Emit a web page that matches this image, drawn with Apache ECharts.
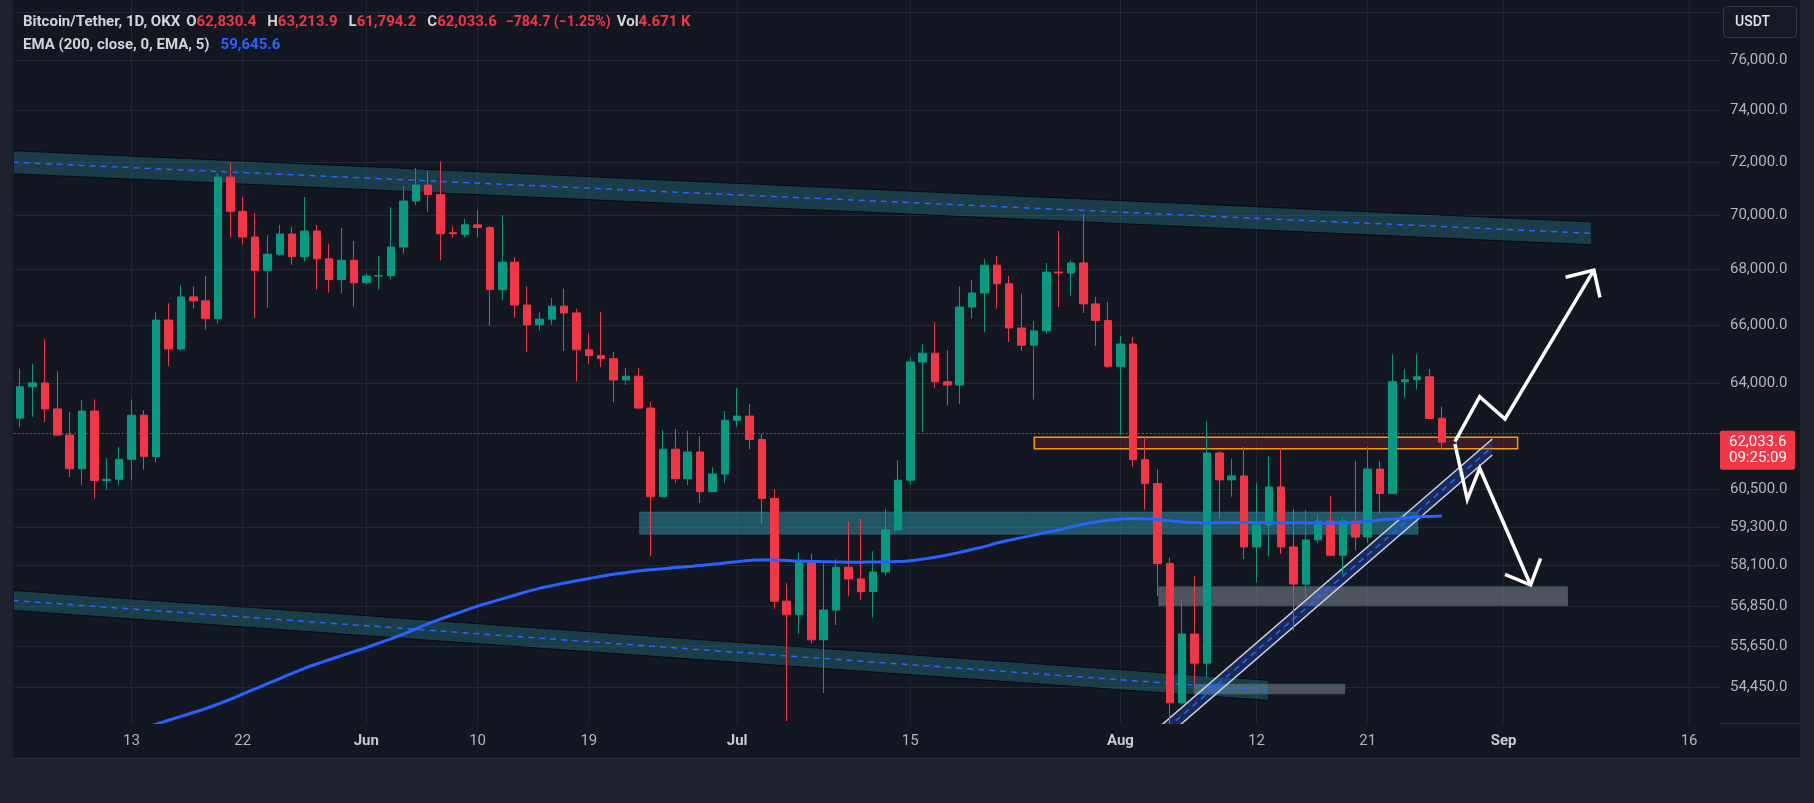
<!DOCTYPE html>
<html>
<head>
<meta charset="utf-8">
<script src="https://cdn.jsdelivr.net/npm/echarts@6/dist/echarts.min.js"></script>
<style>
html,body{margin:0;padding:0;background:#131722;}
#chart{width:1814px;height:803px;}
</style>
</head>
<body>
<div id="chart"></div>
<script>
// ---------------- DATA ----------------
const START_DATE = '2024-05-04';   // first candle
const AXIS_DAYS = 138;             // categories shown on the time axis (May 4 .. Sep 18)

const OPEN = [62830,63890,64020,63140,62270,61160,63070,60780,60820,61470,62930,61560,66200,65190,67020,66880,66250,71430,70140,69190,67970,68560,69300,68470,69410,68390,67640,68340,67530,67770,67780,68820,70530,71130,70770,69350,69290,69640,69540,67280,68270,66730,66030,66230,66690,66450,65160,64960,64850,64120,64250,63170,60260,61800,60840,61710,60420,60990,62760,62900,62120,60200,57000,56590,58230,55840,56730,58040,57680,57290,57890,59200,60790,64740,65040,64060,63950,66660,67160,68160,67490,65920,65320,65820,67910,67880,68240,66770,66180,64590,65360,61460,60680,58150,54000,56010,55150,61680,60800,60930,58670,59360,60570,58670,57520,58890,59480,58410,59480,58980,61150,60360,64060,64130,64230,62830.4];
const HIGH = [64510,64670,65530,64420,63030,63430,63460,61510,61880,63460,63100,66480,66790,67430,67390,67770,71580,71970,70680,70080,69270,69640,69570,70680,69640,68930,69520,69040,67870,68500,70300,71100,71780,71670,72020,69590,69860,70190,69590,70000,68450,67390,66480,66980,67310,66600,65730,66480,65080,64530,64530,63370,62430,62470,62410,62230,61210,63070,63850,63300,62310,60500,57550,58490,58450,58160,58280,59480,59560,58530,59870,61430,64890,65370,66120,65150,67400,67620,68380,68500,67770,67130,66160,68240,69410,68340,70050,67020,66840,65640,65600,62210,61150,58330,57060,57760,62730,61740,61490,61880,60690,61590,61840,59870,59830,59710,60280,59620,61420,61880,61420,65000,64500,65000,64500,63213.9];
const LOW = [62530,62880,62700,62240,60890,60630,60200,60480,60620,60780,61130,61360,64600,65130,66600,65860,66070,69170,68920,66270,66640,68500,68180,68290,67280,67170,67140,66680,67460,67280,67640,68580,70380,70130,68330,69170,69170,69170,65990,66910,66270,65090,65840,66030,65120,64070,64680,64560,63370,63950,63150,58390,60260,60710,60630,60060,60420,60710,62530,61800,59390,56770,53480,56020,55730,54280,56280,57150,57030,56510,57780,59190,60650,62370,63850,63250,63300,66250,65780,66600,65430,65120,63460,65710,66660,67050,66450,65290,64530,62270,61210,59840,57150,49000,53950,54560,54720,59550,60260,58290,57580,58390,58450,56110,57090,58790,58390,57810,58560,58790,59700,60360,63520,63800,62790,61794.2];
const CLOSE = [63890,64020,63140,62270,61160,63070,60780,60820,61470,62930,61560,66200,65190,67020,66880,66250,71430,70140,69190,67970,68560,69300,68470,69410,68390,67640,68340,67530,67770,67780,68820,70530,71130,70770,69310,69310,69640,69540,67280,68270,66730,66030,66230,66690,66450,65160,64960,64850,64120,64250,63170,60260,61800,60840,61710,60420,60990,62760,62900,62120,60200,57000,56590,58230,55840,56730,58040,57680,57290,57890,59200,60790,64740,65040,64060,63950,66660,67160,68160,67490,65920,65320,65820,67910,67880,68240,66770,66180,64590,65360,61460,60680,58150,54000,56010,55150,61680,60800,60930,58670,59360,60570,58670,57520,58890,59480,58410,59480,58980,61150,60360,64060,64130,64230,62820,62033.6];

// EMA(200), one value per day starting at candle index EMA_START
const EMA_START = 10;
const EMA200 = [53300,53390,53500,53610,53720,53830,53960,54100,54250,54400,54550,54700,54850,55000,55130,55250,55370,55490,55610,55740,55870,56010,56160,56320,56460,56590,56720,56850,56960,57070,57180,57290,57390,57470,57550,57620,57690,57760,57820,57870,57920,57960,57990,58030,58060,58090,58130,58170,58210,58250,58265,58260,58245,58230,58220,58210,58200,58195,58195,58200,58205,58215,58240,58290,58350,58420,58500,58590,58680,58790,58880,58960,59040,59120,59200,59300,59380,59450,59510,59545,59560,59555,59530,59490,59455,59435,59425,59430,59435,59440,59440,59435,59430,59430,59425,59420,59415,59420,59440,59470,59510,59545,59580,59610,59630,59646];

const LAST_PRICE = 62033.6;
const LAST_TIME = '09:25:09';
const EMA_LAST = 59645.6;

const Y_RANGE_PRICE = [53393, 78492];
const Y_LABEL_PRICES = [54450,55650,56850,58100,59300,60500,64000,66000,68000,70000,72000,74000,76000];
const Y_GRID_PRICES = [54450,55650,56850,58100,59300,60500,64000,66000,68000,70000,72000,74000,76000,78000];

const X_TICKS = [['2024-05-13','13'],['2024-05-22','22'],['2024-06-01','Jun'],['2024-06-10','10'],['2024-06-19','19'],['2024-07-01','Jul'],['2024-07-15','15'],['2024-08-01','Aug'],['2024-08-12','12'],['2024-08-21','21'],['2024-09-01','Sep'],['2024-09-16','16']];

// Drawings, in (day index from START_DATE, price)
const CHANNELS = [
  {x:[-0.61,127.06], top:[72442,69752], bottom:[71561,68903], kind:'teal'},
  {x:[-0.61,100.9],  top:[57327,54649], bottom:[56720,54071], kind:'teal'},
  {x:[92.14,119.08], top:[53307,62138], bottom:[52855,61611], kind:'blue'}
];
const ZONES = [
  {x:[50.10,113.07], price:[59068,59770], kind:'support'},
  {x:[92.10,125.17], price:[56866,57439], kind:'target'},
  {x:[94.96,107.15], price:[54257,54535], kind:'target'},
  {x:[82.03,121.13], price:[61818,62194], kind:'resistance'}
];
const ARROW_UP = [[116.06,62049],[118.06,63552],[120.11,62803],[127.30,67985]];
const ARROW_UP_HEAD = [[125.01,67722],[127.30,67985],[127.79,67005]];
const ARROW_DOWN = [[116.06,61973],[117.06,60175],[118.06,61177],[122.18,57491]];
const ARROW_DOWN_HEAD = [[120.11,57819],[122.18,57491],[122.99,58314]];

// ---------------- STYLES ----------------
const BG = '#131722';
const FRAME = '#1e222d';
const GRID_COLOR = 'rgba(42,46,57,0.75)';
const UP = '#089981', DOWN = '#f23645';
const TEXT = '#b2b5be';
const FONT = 'Roboto';
const CHANNEL_STYLE = {
  teal: {fill:'rgba(46,150,170,0.30)', edge:'rgba(5,8,12,0.9)', edgeWidth:1, mid:'#2962ff'},
  blue: {fill:'rgba(41,98,255,0.25)', edge:'#d1d4dc', edgeWidth:1.5, mid:'#2962ff'}
};
const ZONE_STYLE = {
  support:    {fill:'rgba(46,150,170,0.50)', stroke:'rgba(46,150,170,0.35)', lineWidth:1},
  target:     {fill:'rgba(120,123,134,0.60)', stroke:'rgba(60,110,120,0.6)', lineWidth:1},
  resistance: {fill:'rgba(242,54,69,0.18)', stroke:'#ff9800', lineWidth:1.5}
};

// ---------------- BUILD ----------------
const L = Math.log;
function addDays(s, n) {
  const d = new Date(s + 'T00:00:00Z');
  d.setUTCDate(d.getUTCDate() + n);
  return d.toISOString().slice(0, 10);
}
const CATEGORIES = Array.from({length: AXIS_DAYS}, (_, i) => addDays(START_DATE, i));
const TICK_MAP = new Map(X_TICKS);
const MONTHS = new Set(['Jun','Jul','Aug','Sep']);

const candleData = OPEN.map((o, i) => [L(o), L(CLOSE[i]), L(LOW[i]), L(HIGH[i])]);
const emaData = CATEGORIES.map((d, i) => {
  const k = i - EMA_START;
  return (k >= 0 && k < EMA200.length) ? L(EMA200[k]) : null;
});
const fmtPrice = v => Math.round(Math.exp(v)).toLocaleString('en-US') + '.0';

const chart = echarts.init(document.getElementById('chart'), null, {renderer: 'canvas'});

function renderVGrid(params, api) {
  const cs = params.coordSys;
  const x = api.coord([api.value(0), L(Y_RANGE_PRICE[0])])[0];
  return {type:'line', shape:{x1:x, y1:cs.y, x2:x, y2:cs.y + cs.height}, style:{stroke: GRID_COLOR, lineWidth:1}};
}
function renderChannel(params, api) {
  const c = CHANNELS[params.dataIndex];
  const st = CHANNEL_STYLE[c.kind];
  const P = (x, p) => api.coord([x, L(p)]);
  const t0 = P(c.x[0], c.top[0]), t1 = P(c.x[1], c.top[1]);
  const b0 = P(c.x[0], c.bottom[0]), b1 = P(c.x[1], c.bottom[1]);
  const m0 = P(c.x[0], Math.sqrt(c.top[0] * c.bottom[0]));
  const m1 = P(c.x[1], Math.sqrt(c.top[1] * c.bottom[1]));
  return {type:'group', children:[
    {type:'polygon', shape:{points:[t0, t1, b1, b0]}, style:{fill: st.fill}},
    {type:'line', shape:{x1:t0[0], y1:t0[1], x2:t1[0], y2:t1[1]}, style:{stroke: st.edge, lineWidth: st.edgeWidth}},
    {type:'line', shape:{x1:b0[0], y1:b0[1], x2:b1[0], y2:b1[1]}, style:{stroke: st.edge, lineWidth: st.edgeWidth}},
    {type:'line', shape:{x1:m0[0], y1:m0[1], x2:m1[0], y2:m1[1]}, style:{stroke: st.mid, lineWidth:1.5, lineDash:[6,5]}}
  ]};
}
function renderZone(params, api) {
  const z = ZONES[params.dataIndex];
  const st = ZONE_STYLE[z.kind];
  const a = api.coord([z.x[0], L(z.price[1])]);
  const b = api.coord([z.x[1], L(z.price[0])]);
  return {type:'rect', shape:{x:a[0], y:a[1], width:b[0] - a[0], height:b[1] - a[1]},
          style:{fill: st.fill, stroke: st.stroke, lineWidth: st.lineWidth}};
}
const ARROWS = [[ARROW_UP, ARROW_UP_HEAD], [ARROW_DOWN, ARROW_DOWN_HEAD]];
function renderArrow(params, api) {
  const [path, head] = ARROWS[params.dataIndex];
  const pts = a => a.map(p => api.coord([p[0], L(p[1])]));
  const s = {stroke:'#ffffff', lineWidth:3.5, fill:null, lineJoin:'miter', lineCap:'butt'};
  return {type:'group', children:[
    {type:'polyline', shape:{points: pts(path)}, style: s},
    {type:'polyline', shape:{points: pts(head)}, style: s}
  ]};
}

const option = {
  backgroundColor: BG,
  animation: false,
  title: [
    {
      left: 23, top: 13, padding: 0,
      text: '{g|Bitcoin/Tether, 1D, OKX}{g0|O}{r|62,830.4}{gl|H}{r|63,213.9}{gl|L}{r|61,794.2}{gl|C}{r|62,033.6}{rl|\u2212784.7 (\u22121.25%)}{gv|Vol}{r|4.671 K}',
      textStyle: {
        fontFamily: FONT, fontSize: 15, lineHeight: 19,
        rich: {
          g:  {color:'#d1d4dc', fontFamily:FONT, fontSize:15, lineHeight:19},
          g0: {color:'#d1d4dc', fontFamily:FONT, fontSize:15, lineHeight:19, padding:[0,0,0,6]},
          gl: {color:'#d1d4dc', fontFamily:FONT, fontSize:15, lineHeight:19, padding:[0,0,0,11]},
          gv: {color:'#d1d4dc', fontFamily:FONT, fontSize:15, lineHeight:19, padding:[0,0,0,6]},
          r:  {color:'#f23645', fontFamily:FONT, fontSize:15, lineHeight:19},
          rl: {color:'#f23645', fontFamily:FONT, fontSize:14.2, lineHeight:19, padding:[0,0,0,9]}
        }
      }
    },
    {
      left: 23, top: 35.5, padding: 0,
      text: '{g|EMA (200, close, 0, EMA, 5)}{b|' + EMA_LAST.toLocaleString('en-US', {minimumFractionDigits:1}) + '}',
      textStyle: {
        fontFamily: FONT, fontSize: 15, lineHeight: 19,
        rich: {
          g: {color:'#d1d4dc', fontFamily:FONT, fontSize:15, lineHeight:19},
          b: {color:'#2962ff', fontFamily:FONT, fontSize:15, lineHeight:19, padding:[0,0,0,11]}
        }
      }
    }
  ],
  grid: {left: 14, right: 94, top: 0, bottom: 79, containLabel: false},
  xAxis: [
    {
      type: 'category', data: CATEGORIES, boundaryGap: true, z: 10,
      axisLine: {show: false}, axisTick: {show: false}, splitLine: {show: false},
      axisLabel: {
        interval: (i, v) => TICK_MAP.has(v),
        margin: 10, color: TEXT, fontFamily: FONT, fontSize: 15,
        formatter: v => {
          const t = TICK_MAP.get(v);
          return MONTHS.has(t) ? '{b|' + t + '}' : t;
        },
        rich: {b: {fontWeight: 'bold', color: '#c7cad2', fontFamily: FONT, fontSize: 15}}
      }
    },
    {type: 'value', min: -0.5, max: AXIS_DAYS - 0.5, show: false}
  ],
  yAxis: [{
    type: 'value', position: 'right',
    min: L(Y_RANGE_PRICE[0]), max: L(Y_RANGE_PRICE[1]),
    axisLine: {show: false},
    axisTick: {show: false, customValues: Y_GRID_PRICES.map(L)},
    splitLine: {show: true, lineStyle: {color: GRID_COLOR, width: 1}},
    axisLabel: {
      customValues: Y_LABEL_PRICES.map(L), formatter: fmtPrice,
      color: TEXT, fontFamily: FONT, fontSize: 15, margin: 10, align: 'left'
    }
  }],
  series: [
    {
      type: 'custom', name: 'vgrid', xAxisIndex: 0, yAxisIndex: 0, z: 1, silent: true,
      data: X_TICKS.map(t => [t[0], L(Y_RANGE_PRICE[0])]), renderItem: renderVGrid
    },
    {
      type: 'custom', name: 'zones', xAxisIndex: 1, yAxisIndex: 0, z: 2, clip: true, silent: true,
      data: ZONES.map(z => [z.x[0], L(z.price[0])]), renderItem: renderZone
    },
    {
      type: 'custom', name: 'channels', xAxisIndex: 1, yAxisIndex: 0, z: 3, clip: true, silent: true,
      data: CHANNELS.map(c => [c.x[0], L(c.top[0])]), renderItem: renderChannel
    },
    {
      type: 'candlestick', name: 'BTCUSDT', xAxisIndex: 0, yAxisIndex: 0, z: 5,
      data: candleData, barWidth: 8, clip: true,
      itemStyle: {color: UP, color0: DOWN, borderColor: UP, borderColor0: DOWN, borderWidth: 1},
      markLine: {
        silent: true, symbol: ['none', 'none'], label: {show: false}, z: 4,
        lineStyle: {color: '#f23645', type: [1.5, 2.5], width: 1},
        data: [{yAxis: L(LAST_PRICE)}]
      }
    },
    {
      type: 'line', name: 'EMA 200', xAxisIndex: 0, yAxisIndex: 0, z: 6,
      data: emaData, showSymbol: false, smooth: true, connectNulls: false,
      lineStyle: {color: '#2962ff', width: 3}
    },
    {
      type: 'custom', name: 'arrows', xAxisIndex: 1, yAxisIndex: 0, z: 7, clip: true, silent: true,
      data: ARROWS.map(a => [a[0][0][0], L(a[0][0][1])]), renderItem: renderArrow
    }
  ]
};
chart.setOption(option);

// chrome + price tag (positions taken from the chart's own scales)
const gridRect = chart.getModel().getComponent('grid', 0).coordinateSystem.getRect();
const py = chart.convertToPixel({yAxisIndex: 0}, L(LAST_PRICE));
const gridBottom = gridRect.y + gridRect.height;
chart.setOption({
  graphic: [
    // mask for wicks running below the price scale (axis labels are drawn above it)
    {type:'rect', shape:{x:gridRect.x - 1, y:gridBottom, width:gridRect.width + 2, height:758 - gridBottom}, style:{fill: BG}, z: 8, silent: true},
    {type:'rect', shape:{x:0, y:0, width:13, height:803}, style:{fill: FRAME}, z: 100},
    {type:'rect', shape:{x:1800, y:0, width:14, height:803}, style:{fill: FRAME}, z: 100},
    {type:'rect', shape:{x:0, y:758, width:1814, height:45}, style:{fill: FRAME}, z: 100},
    {type:'line', shape:{x1:13, y1:758.5, x2:1800, y2:758.5}, style:{stroke:'#2a2e39', lineWidth:1}, z: 101},
    {type:'line', shape:{x1:1719, y1:gridBottom - 0.5, x2:1800, y2:gridBottom - 0.5}, style:{stroke:'#2a2e39', lineWidth:1}, z: 101},
    // USDT box
    {type:'rect', shape:{x:1723.5, y:6.5, width:73, height:31, r:4}, style:{fill:'#161a25', stroke:'#363a45', lineWidth:1}, z: 102},
    {type:'text', style:{x:1735, y:22, text:'USDT', fill:'#e0e3eb', font:'500 14px Roboto', verticalAlign:'middle'}, z: 103},
    // last price tag
    {type:'rect', shape:{x:1720, y:py - 11.5, width:75, height:39, r:2}, style:{fill:'#f23645'}, z: 102},
    {type:'text', style:{x:1729, y:py, text: LAST_PRICE.toLocaleString('en-US', {minimumFractionDigits:1}), fill:'#ffffff', font:'15px Roboto', verticalAlign:'middle'}, z: 103},
    {type:'text', style:{x:1729, y:py + 16.5, text: LAST_TIME, fill:'#ffffff', font:'15px Roboto', verticalAlign:'middle'}, z: 103},
    // TradingView logo
    {type:'group', z: 103, children:[
      {type:'rect', shape:{x:13, y:775, width:8.3, height:4.2}, style:{fill:'#d1d4dc'}},
      {type:'rect', shape:{x:17.3, y:775, width:4, height:12.5}, style:{fill:'#d1d4dc'}},
      {type:'circle', shape:{cx:24.6, cy:777.1, r:2.1}, style:{fill:'#d1d4dc'}},
      {type:'polygon', shape:{points:[[28.3,775],[37.5,775],[29,787.5],[24.3,787.5]]}, style:{fill:'#d1d4dc'}},
      {type:'text', style:{x:41.5, y:782, text:'TradingView', fill:'#d1d4dc', font:'500 15.5px Roboto', verticalAlign:'middle'}}
    ]}
  ]
});
</script>
</body>
</html>
